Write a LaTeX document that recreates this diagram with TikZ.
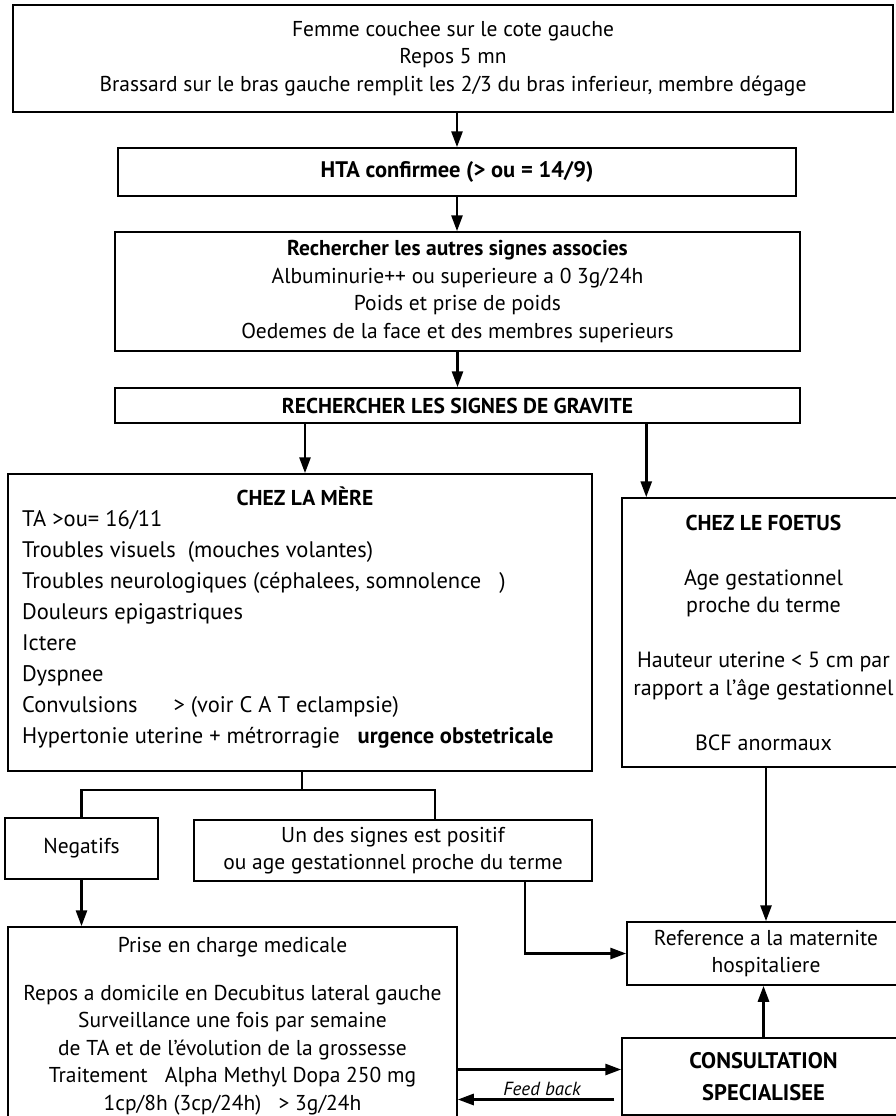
\documentclass[tikz,border=0pt]{standalone}
\usepackage{fontspec}
\setmainfont{PT Sans}
\usepackage{tkz-euclide}
\usetikzlibrary{arrows.meta,positioning}
\newcommand{\myText}{\fontsize{21.5}{27.5}\selectfont}
\newcommand{\myBigText}{\fontsize{22.5}{32}\selectfont}
\tikzset{
	box/.style={draw, line width=1.5pt, inner sep=0pt, align=center},
	flow/.style={line width=2.8pt, -{Triangle[length=16pt, width=11pt]}},
	link/.style={line width=2.8pt}
}

\begin{document}
\begin{tikzpicture}[x=1pt, y=-1pt, every node/.style={font=\myText}]
	\useasboundingbox (0,0) rectangle (895,1116);

	\node[box, minimum width=880, minimum height=107] (pose) at (453,58.5)
		{Femme couchee sur le cote gauche\\Repos 5 mn\\Brassard sur le bras gauche remplit les 2/3 du bras inferieur, membre dégage};
	\node[box, minimum width=678, minimum height=48, font=\myBigText\bfseries] (hta) at (457,172)
		{HTA confirmee (> ou = 14/9)};
	\node[box, minimum width=685, minimum height=119] (assoc) at (457.5,291.5)
		{\textbf{Rechercher les autres signes associes}\\Albuminurie++ ou superieure a 0 3g/24h\\Poids et prise de poids\\Oedemes de la face et des membres superieurs};
	\node[box, minimum width=685, minimum height=35, font=\myText\bfseries] (grav) at (457.5,405.5)
		{RECHERCHER LES SIGNES DE GRAVITE};

	\node[box, minimum width=584, minimum height=297] (mere) at (300,622.5) {};
	\node[font=\myText\bfseries] (mereTitle) at (305,496) {CHEZ LA MÈRE};
	\node[anchor=north west, align=left, inner sep=0pt, font=\fontsize{22.5}{31}\selectfont] (mereSigns) at (22,510)
		{TA >ou= 16/11\\Troubles visuels\ \ (mouches volantes)\\Troubles neurologiques (céphalees, somnolence\ \ \ )\\Douleurs epigastriques\\Ictere\\Dyspnee\\Convulsions\hspace{1.6em}> (voir C A T eclampsie)\\Hypertonie uterine + métrorragie\ \ \ \textbf{urgence obstetricale}};
	\node[box, minimum width=283, minimum height=269, font=\fontsize{22}{27.5}\selectfont] (foetus) at (763.5,632.5)
		{{\myText\bfseries CHEZ LE FOETUS}\\[27.5pt]Age gestationnel\\proche du terme\\[27.5pt]Hauteur uterine < 5 cm par\\rapport a l’âge gestationnel\\[27.5pt]BCF anormaux};

	\node[box, minimum width=153, minimum height=61] (neg) at (81.5,848.5) {Negatifs};
	\node[box, minimum width=398, minimum height=61] (signe) at (393,850.5)
		{Un des signes est positif\\ou age gestationnel proche du terme};
	\node[box, minimum width=449, minimum height=198] (prise) at (232.5,1026)
		{Prise en charge medicale\\[20pt]Repos a domicile en Decubitus lateral gauche\\Surveillance une fois par semaine\\de TA et de l'évolution de la grossesse\\Traitement\ \ \ Alpha Methyl Dopa 250 mg\\1cp/8h (3cp/24h)\ \ \ > 3g/24h};
	\node[box, minimum width=278, minimum height=63] (mater) at (766,953.5)
		{Reference a la maternite\\hospitaliere};
	\node[box, minimum width=283, minimum height=77, font=\myBigText\bfseries] (consult) at (763.5,1076.5)
		{CONSULTATION\\SPECIALISEE};

	\tkzDefPoints{302/790/J}
	\coordinate (toConsult) at ([yshift=7]consult.west);
	\coordinate (feed) at ([xshift=-7, yshift=-23]consult.west);

	\draw[flow] (pose.south -| hta.north) -- (hta.north);
	\draw[flow] (hta.south) -- (hta.south |- assoc.north);
	\draw[flow] (assoc.south) -- (assoc.south |- grav.north);
	\draw[flow] (grav.south -| mereTitle) -- (mere.north -| mereTitle);
	\draw[flow] ([xshift=25]foetus.north west |- grav.south) -- ([xshift=25]foetus.north west);

	\draw[link] (mere.south -| J) -- (J);
	\draw[link] (neg.north) |- (J) -| ([xshift=42]signe.north);
	\draw[flow] (neg.south) -- (neg.south |- prise.north);
	\draw[flow] ([xshift=132]signe.south) |- (mater.west);
	\draw[flow] (foetus.south -| mater.north) -- (mater.north);
	\draw[flow] (consult.north) -- (consult.north |- mater.south);
	\draw[flow] (prise.east |- toConsult) -- (toConsult);
	\draw[flow] (feed) -- node[above, inner sep=2pt, xshift=6, font=\fontsize{19}{22}\selectfont\itshape] (fbText) {Feed back} (prise.east |- feed);
\end{tikzpicture}
\end{document}
